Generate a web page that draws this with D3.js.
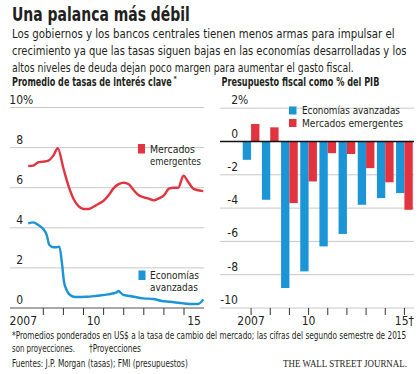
<!DOCTYPE html>
<html><head><meta charset="utf-8">
<script src="https://cdn.jsdelivr.net/npm/d3@7"></script>
<style>
body{margin:0;background:#fff;}
text{font-family:"Liberation Sans Narrow","DejaVu Sans Condensed","Liberation Sans",Arial,sans-serif;fill:#231f20;}
</style></head>
<body><svg id="c" width="420" height="374"></svg>
<script>
// ---- data ----
const rateYearsEm = [2007.25,2007.5,2007.75,2008.0,2008.25,2008.5,2008.72,2009.0,2009.25,2009.5,2009.75,2010.0,2010.25,2010.5,2010.75,2011.0,2011.25,2011.5,2011.75,2012.0,2012.25,2012.5,2012.75,2013.0,2013.25,2013.5,2013.75,2014.0,2014.25,2014.5,2014.72,2014.97,2015.21,2015.5,2015.96];
const ratesEm     = [7.08,7.1,7.27,7.3,7.35,7.6,7.97,6.97,6.1,5.45,5.08,4.94,4.94,5.05,5.2,5.35,5.62,5.98,6.18,6.25,6.17,5.87,5.62,5.52,5.45,5.37,5.47,5.62,5.95,6.0,6.0,6.6,6.28,5.93,5.83];
const rateYearsAdv = [2007.25,2007.5,2007.75,2008.0,2008.17,2008.3,2008.5,2008.67,2008.8,2008.92,2009.03,2009.16,2009.33,2009.58,2010.16,2010.66,2011.23,2011.65,2011.73,2011.98,2012.31,2012.98,2013.47,2013.89,2014.3,2014.97,2015.46,2015.71,2015.96];
const ratesAdv     = [4.22,4.27,4.14,3.94,3.64,3.14,3.03,3.03,3.06,2.31,1.31,0.9,0.65,0.55,0.56,0.61,0.68,0.78,0.85,0.65,0.6,0.48,0.45,0.35,0.31,0.23,0.2,0.2,0.43];
const rateTicks = [0,2,4,6,8,10];
const rateYearLabels = [[2007,"2007"],[2010,"10"],[2015,"15"]];

const budgetYears = [2007,2008,2009,2010,2011,2012,2013,2014,2015];
const budgetAdv = [-1.1,-3.5,-8.8,-7.8,-6.3,-5.55,-3.8,-3.4,-3.1];
const budgetEm  = [1.05,0.85,-3.7,-2.4,-0.7,-0.75,-1.6,-2.45,-4.1];
const budgetTicks = [2,0,-2,-4,-6,-8,-10];
const budgetYearLabels = {2007:"2007",2010:"10",2015:"15\u2020"};

const RED = "#e2333f", BLUE = "#1b95d5", GRID = "#c8c8c8";

const svg = d3.select("#c");
// text helper: when a target width is given, the text is squeezed horizontally with a transform
function txt(x,y,s,size,w,opts={}){
  const t = svg.append("text").attr("font-size",size).text(s);
  if(opts.bold) t.attr("font-weight","bold");
  if(opts.anchor) t.attr("text-anchor",opts.anchor);
  if(opts.family) t.style("font-family",opts.family);
  let sx = 1;
  if(w){ const len = t.node().getComputedTextLength(); if(len>0) sx = w/len; }
  t.attr("transform",`translate(${x},${y}) scale(${sx},1)`);
  return t;
}

// ---- header ----
txt(12,21,"Una palanca más débil",19,178,{bold:true});
const sub = ["Los gobiernos y los bancos centrales tienen menos armas para impulsar el",
 "crecimiento ya que las tasas siguen bajas en las economías desarrolladas y los",
 "altos niveles de deuda dejan poco margen para aumentar el gasto fiscal."];
const subW = [383,395,342];
sub.forEach((s,i)=>txt(12,37.5+i*17,s,12.5,subW[i]));

txt(12,86,"Promedio de tasas de interés clave",11.5,160,{bold:true});
txt(173.5,81,"*",7,0,{bold:true});
txt(221.5,86,"Presupuesto fiscal como % del PIB",11.5,158,{bold:true});

// ---- left chart ----
const xL = d3.scaleLinear().domain([2007,2016]).range([23.2,204.1]);
const yL = d3.scaleLinear().domain([0,10]).range([308,107.5]);
const gL = svg.append("g");
rateTicks.forEach(t=>{
  gL.append("line").attr("x1",10).attr("x2",204).attr("y1",yL(t)).attr("y2",yL(t))
    .attr("stroke", t===0 ? "#555" : GRID).attr("stroke-width", t===0?1.2:1);
  txt(23,yL(t)-4,t,12,0,{anchor:"end"});
  if(t===10) txt(23,yL(t)-4,"%",12,0);
});
d3.range(2008,2016).forEach(yr=>{
  gL.append("line").attr("x1",xL(yr)).attr("x2",xL(yr)).attr("y1",308).attr("y2",315).attr("stroke","#333").attr("stroke-width",1);
});
rateYearLabels.forEach(([yr,l])=>{
  txt(yr===2007 ? 23.3 : xL(yr+0.5),325,l,12,0,{anchor:"middle"});
});
const line = d3.line().x(d=>xL(d[0])).y(d=>yL(d[1])).curve(d3.curveMonotoneX);
gL.append("path").datum(d3.zip(rateYearsEm,ratesEm)).attr("d",line).attr("fill","none").attr("stroke",RED).attr("stroke-width",2.4).attr("stroke-linejoin","round");
gL.append("path").datum(d3.zip(rateYearsAdv,ratesAdv)).attr("d",line).attr("fill","none").attr("stroke",BLUE).attr("stroke-width",2.4).attr("stroke-linejoin","round");
// legends
gL.append("rect").attr("x",138).attr("y",144).attr("width",7).attr("height",9.5).attr("fill",RED);
txt(150,152.7,"Mercados",10.6,45);
txt(150,164.6,"emergentes",10.6,51);
gL.append("rect").attr("x",138.5).attr("y",270.5).attr("width",7).attr("height",9.5).attr("fill",BLUE);
txt(150,279,"Economías",10.6,49);
txt(150,290.9,"avanzadas",10.6,48);

// ---- right chart ----
const xR = d3.scaleBand().domain(budgetYears).range([241.5,414]).paddingInner(0.13).paddingOuter(0.065);
const xS = d3.scaleBand().domain(["adv","em"]).range([0,xR.bandwidth()]);
const yR = d3.scaleLinear().domain([-10,2]).range([308,108.2]);
const gR = svg.append("g");
budgetTicks.filter(t=>t!==0).forEach(t=>{
  gR.append("line").attr("x1",220).attr("x2",414).attr("y1",yR(t)).attr("y2",yR(t)).attr("stroke",GRID);
});
budgetTicks.forEach(t=>{
  txt(238,yR(t)-4,t<0?"-"+Math.abs(t):t,12,0,{anchor:"end"});
  if(t===2) txt(238,yR(t)-4,"%",12,0);
});
const bars = [["adv",budgetAdv,BLUE],["em",budgetEm,RED]];
bars.forEach(([k,vals,col])=>{
  gR.selectAll("rect."+k).data(budgetYears).enter().append("rect")
    .attr("x",(d)=>xR(d)+xS(k)).attr("width",xS.bandwidth())
    .attr("y",(d,i)=>yR(Math.max(0,vals[i]))).attr("height",(d,i)=>Math.abs(yR(vals[i])-yR(0)))
    .attr("fill",col);
});
gR.append("line").attr("x1",220).attr("x2",414).attr("y1",yR(0)).attr("y2",yR(0)).attr("stroke","#111").attr("stroke-width",1.3);
budgetYears.forEach(yr=>{
  const cx = xR(yr)+xR.bandwidth()/2;
  gR.append("line").attr("x1",cx).attr("x2",cx).attr("y1",308).attr("y2",315).attr("stroke","#333");
  if(budgetYearLabels[yr]) txt(cx,325,budgetYearLabels[yr],12,0,{anchor:"middle"});
});
gR.append("rect").attr("x",289).attr("y",106.5).attr("width",7.5).attr("height",8).attr("fill",BLUE);
txt(302,113.5,"Economías avanzadas",11.2,98);
gR.append("rect").attr("x",289).attr("y",119).attr("width",7.5).attr("height",8).attr("fill",RED);
txt(302,126.5,"Mercados emergentes",11.2,101);

// ---- footer ----
txt(12,339,"*Promedios ponderados en US$ a la tasa de cambio del mercado; las cifras del segundo semestre de 2015",10.5,395);
txt(12,352,"son proyecciones.",10.5,63);
txt(89,352,"\u2020Proyecciones",10.5,52);
txt(12,367,"Fuentes: J.P. Morgan (tasas); FMI (presupuestos)",10.5,176);
txt(283,367,"THE WALL STREET JOURNAL.",10.5,124,{family:"'Liberation Serif','DejaVu Serif',serif"});
</script></body></html>
